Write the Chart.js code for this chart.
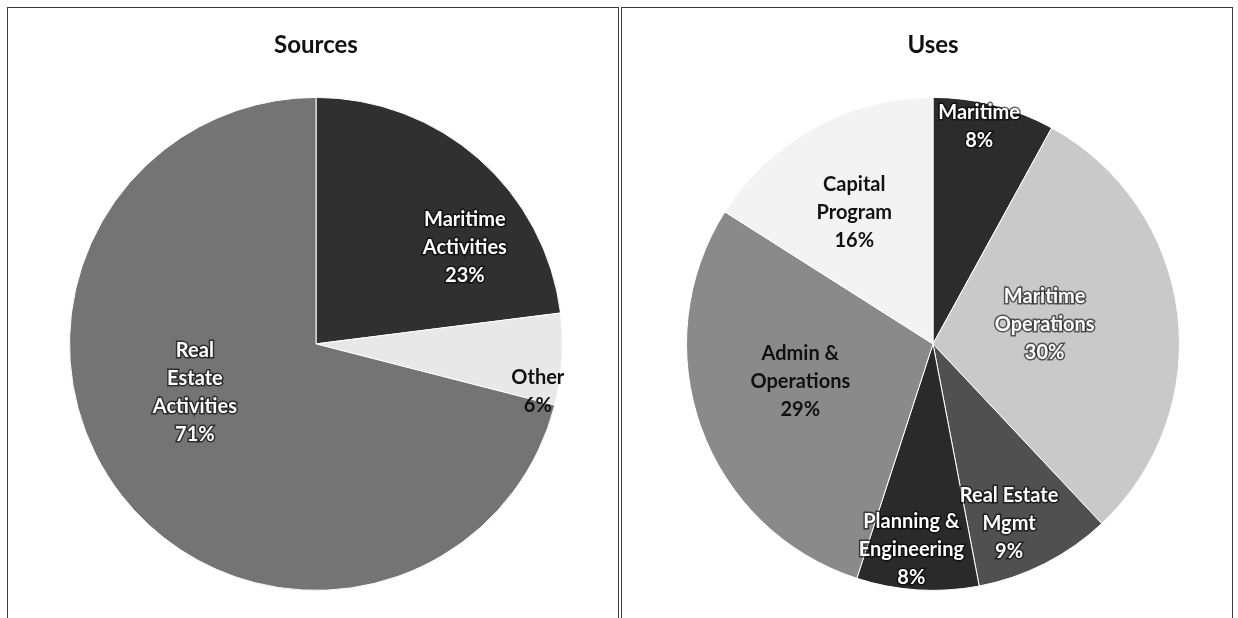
<!DOCTYPE html>
<html>
<head>
<meta charset="utf-8">
<script src="https://cdn.jsdelivr.net/npm/chart.js@4"></script>
<style>
  body { margin: 0; background: #fff; width: 1238px; height: 618px; overflow: hidden; position: relative; }
  .panel { position: absolute; top: 7px; height: 640px; border: 1.5px solid #3a3a3a; box-sizing: border-box; }
  canvas { position: absolute; top: 8px; }
</style>
</head>
<body>
<div class="panel" style="left:7px; width:612px;"></div>
<div class="panel" style="left:621px; width:612px;"></div>
<canvas id="sources" width="610" height="610" style="left:8px"></canvas>
<canvas id="uses" width="610" height="610" style="left:622px"></canvas>
<script>
// Daten
const sourceLabels = ['Maritime Activities', 'Other', 'Real Estate Activities'];
const sourceLines = [['Maritime', 'Activities'], ['Other'], ['Real', 'Estate', 'Activities']];
const sourceValues = [23, 6, 71];

const useLabels = ['Maritime', 'Maritime Operations', 'Real Estate Mgmt', 'Planning & Engineering', 'Admin & Operations', 'Capital Program'];
const useLines = [['Maritime'], ['Maritime', 'Operations'], ['Real Estate', 'Mgmt'], ['Planning &', 'Engineering'], ['Admin &', 'Operations'], ['Capital', 'Program']];
const useValues = [8, 30, 9, 8, 29, 16];

const FONT = 'Lato, "Open Sans", sans-serif';

// Labels in die Tortenstücke schreiben
const sliceLabels = {
  id: 'sliceLabels',
  afterDatasetsDraw(chart, args, opts) {
    const ctx = chart.ctx;
    const meta = chart.getDatasetMeta(0);
    const values = chart.data.datasets[0].data;
    ctx.save();
    ctx.font = 'bold 20px ' + FONT;
    ctx.textAlign = 'center';
    ctx.textBaseline = 'middle';
    meta.data.forEach((arc, i) => {
      let pos = opts.pos[i];
      let a = (pos[0] - 90) * Math.PI / 180;
      let r = arc.outerRadius * pos[1];
      let cx = arc.x + Math.cos(a) * r;
      let cy = arc.y + Math.sin(a) * r;
      let lines = opts.lines[i].concat([values[i] + '%']);
      let lh = opts.lineHeight;
      let y0 = cy - (lines.length - 1) * lh / 2;
      lines.forEach((t, k) => {
        if (opts.white[i]) {
          ctx.lineWidth = 3;
          ctx.strokeStyle = 'rgba(0,0,0,0.6)';
          ctx.strokeText(t, cx, y0 + k * lh);
          ctx.fillStyle = '#ffffff';
        } else {
          ctx.fillStyle = '#111111';
        }
        ctx.fillText(t, cx, y0 + k * lh);
      });
    });
    ctx.restore();
  }
};

function makePie(id, title, labels, values, colors, lines, pos, white, pad) {
  const config = {
    type: 'pie',
    data: {
      labels: labels,
      datasets: [{ data: values, backgroundColor: colors, borderColor: '#ffffff', borderWidth: 1 }]
    },
    options: {
      responsive: false,
      animation: false,
      layout: { padding: pad },
      plugins: {
        legend: { display: false },
        tooltip: { enabled: false },
        title: {
          display: true,
          text: title,
          color: '#111',
          font: { family: FONT, size: 24, weight: 'bold', lineHeight: 1.2 },
          padding: { top: 23, bottom: 37 }
        },
        sliceLabels: { lines: lines, pos: pos, white: white, lineHeight: 28 }
      }
    },
    plugins: [sliceLabels]
  };
  return new Chart(document.getElementById(id), config);
}

makePie('sources', 'Sources', sourceLabels, sourceValues,
  ['#303030', '#e8e8e8', '#747474'],
  sourceLines,
  [[57, 0.72], [102, 0.92], [248, 0.53]],
  [true, false, true],
  { left: 61, right: 55, top: 0, bottom: 27 });

makePie('uses', 'Uses', useLabels, useValues,
  ['#2c2c2c', '#c9c9c9', '#505050', '#2a2a2a', '#8a8a8a', '#f3f3f3'],
  useLines,
  [[12, 0.9], [80, 0.46], [157, 0.79], [186, 0.84], [254, 0.56], [329, 0.62]],
  [true, true, true, true, false, false],
  { left: 64, right: 52, top: 0, bottom: 27 });
</script>
</body>
</html>
